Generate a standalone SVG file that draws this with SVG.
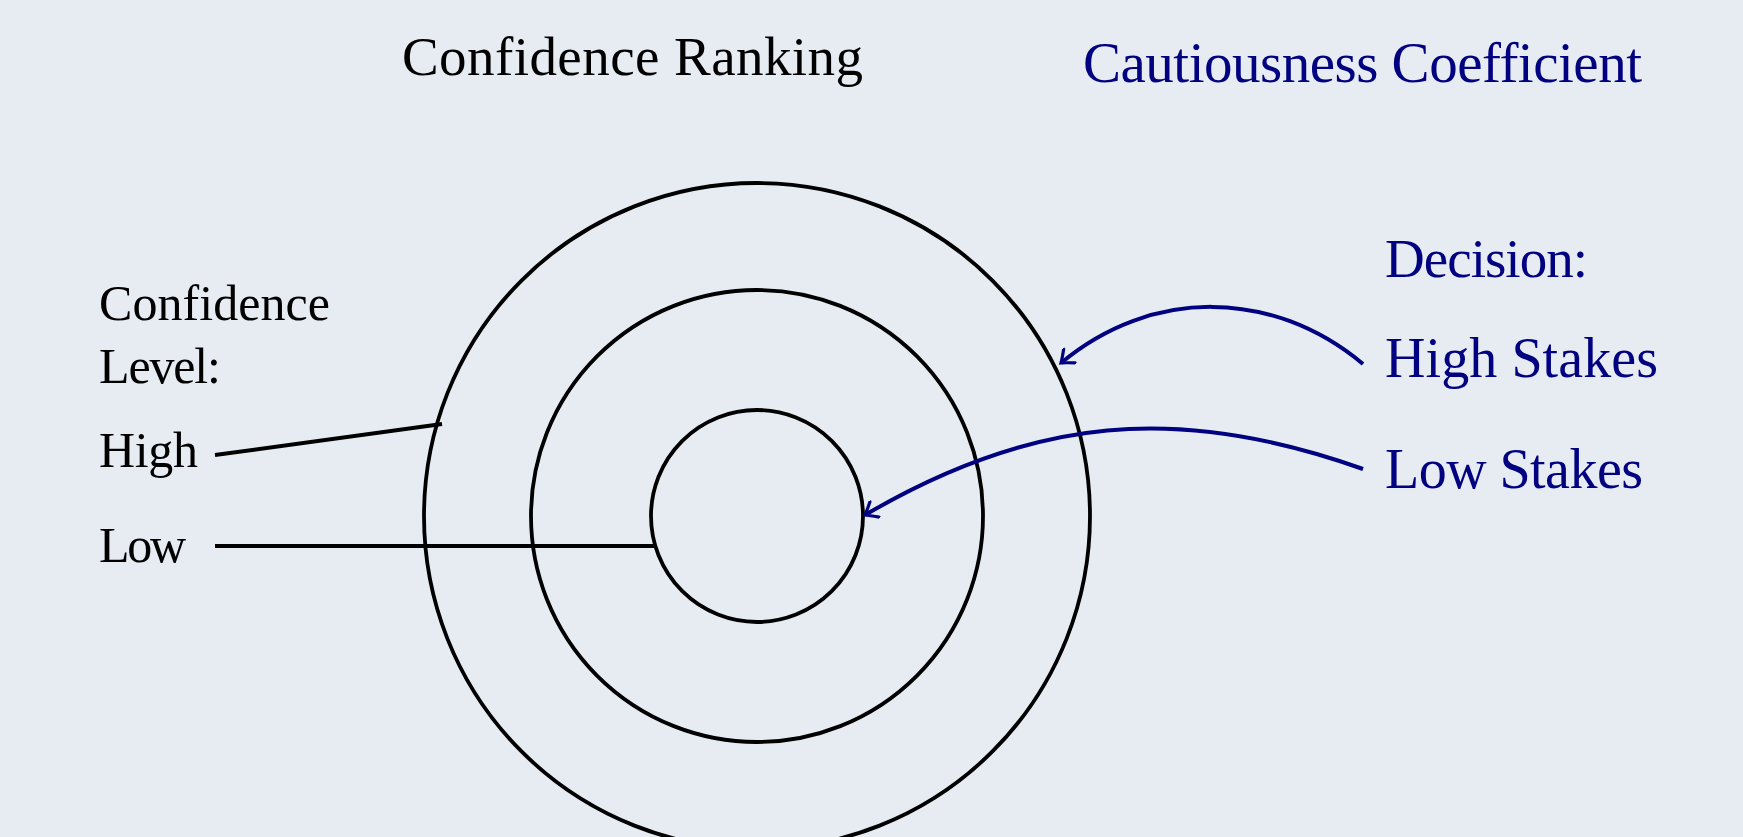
<svg xmlns="http://www.w3.org/2000/svg" width="1743" height="837" viewBox="0 0 1743 837">
<defs>
<style>
.bg{fill:#e7ecf2}
.ring{fill:none;stroke:#000;stroke-width:3.8}
.lead{fill:none;stroke:#000;stroke-width:4}
.arc{fill:none;stroke:#000080;stroke-width:4}
.t{font-family:"Liberation Serif","DejaVu Serif",serif;fill:#000}
.n{font-family:"Liberation Serif","DejaVu Serif",serif;fill:#000080}
</style>
<marker id="ah" markerUnits="userSpaceOnUse" viewBox="-14 -10 18 20" markerWidth="18" markerHeight="20" refX="0" refY="0" orient="auto">
<path d="M-11,-9 Q-3,-2 0,0 Q-3,2 -11,9" fill="none" stroke="#000080" stroke-width="3.2" stroke-linecap="round"/>
</marker>
</defs>
<rect class="bg" x="0" y="0" width="1743" height="837"/>
<g id="title-left"><text class="t" x="402" y="75" font-size="55" textLength="461">Confidence Ranking</text></g>
<g id="title-right"><text class="n" x="1083" y="82" font-size="57" textLength="559">Cautiousness Coefficient</text></g>
<g id="target">
<circle class="ring" cx="757" cy="516" r="333"/>
<circle class="ring" cx="757" cy="516" r="226"/>
<circle class="ring" cx="757" cy="516" r="106"/>
</g>
<g id="legend-left">
<text class="t" x="99" y="320" font-size="50" textLength="231">Confidence</text>
<text class="t" x="99" y="383" font-size="50" textLength="122">Level:</text>
<text class="t" x="99" y="467" font-size="50" textLength="99">High</text>
<text class="t" x="99" y="562" font-size="50" textLength="87">Low</text>
</g>
<g id="legend-right">
<text class="n" x="1385" y="277" font-size="55" textLength="203">Decision:</text>
<text class="n" x="1385" y="377" font-size="56" textLength="273">High Stakes</text>
<text class="n" x="1385" y="488" font-size="56" textLength="258">Low Stakes</text>
</g>
<g id="connectors">
<line class="lead" x1="215" y1="455" x2="442" y2="424"/>
<line class="lead" x1="215" y1="546" x2="654" y2="546"/>
<path class="arc" d="M1363,364 C1272,288 1151,288 1061,363" marker-end="url(#ah)"/>
<path class="arc" d="M1363,469 C1178,403 1032,417 865,515" marker-end="url(#ah)"/>
</g>
</svg>
